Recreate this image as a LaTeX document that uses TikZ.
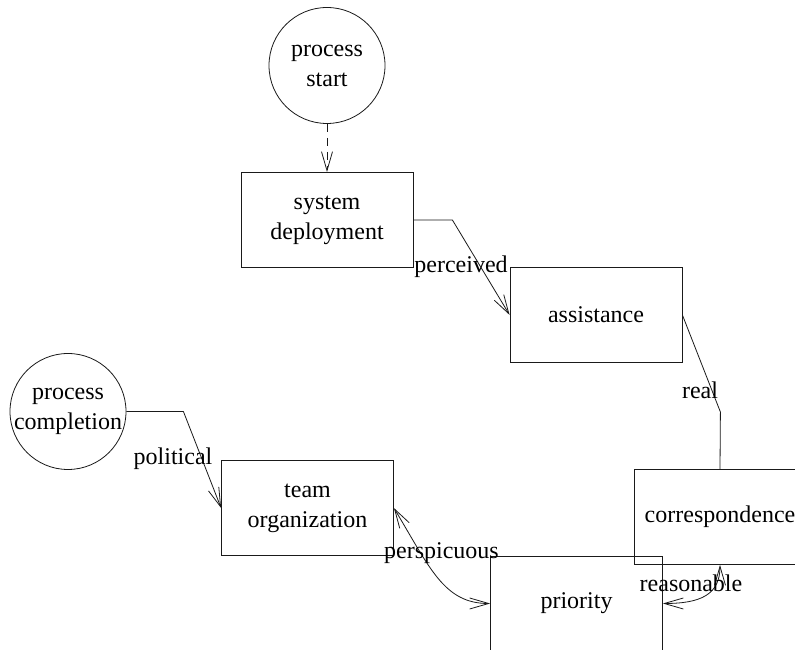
\documentclass[tikz,border=0pt]{standalone}
\usepackage{fontspec}
\setmainfont{Liberation Serif}
\usepackage{xcolor}
\definecolor{ink}{HTML}{1A1A1A}
\usepackage{tikz}
\usetikzlibrary{arrows.meta,positioning,shapes.geometric}
\tikzset{
  stepbox/.style = {rectangle, draw=ink, line width=0.8pt, inner sep=0pt,
                    minimum width=172pt, minimum height=95pt, align=center},
  endcirc/.style = {circle, draw=ink, line width=0.8pt, inner sep=-3pt,
                    minimum size=116pt, align=center},
  lbl/.style     = {inner sep=0pt, align=center},
  arr/.style     = {-{Straight Barb[length=19pt,width=11pt]}, line width=0.8pt, draw=ink},
  darr/.style    = {{Straight Barb[length=19pt,width=11pt]}-{Straight Barb[length=19pt,width=11pt]},
                    line width=0.8pt, draw=ink},
  plain/.style   = {line width=0.8pt, draw=ink}
}

\begin{document}
\begin{tikzpicture}[x=1pt, y=1pt, font=\fontsize{24}{30}\selectfont]
  \useasboundingbox (0,0) rectangle (795,650);

  % nodes
  \node[endcirc] (start) at (327,584.5) {process\\start};
  \node[stepbox] (deploy) at (327,430) {system\\deployment};
  \node[stepbox] (assist) at (596,335) {assistance};
  \node[stepbox] (corr) at (720,133) {correspondence};
  \node[stepbox] (prio) at (576.5,46.5) {priority};
  \node[stepbox] (team) at (307.5,142) {team\\organization};
  \node[endcirc] (compl) at (68,238.5) {process\\completion};

  % connectors
  \draw[arr, dash pattern=on 8pt off 6pt] (start) -- (deploy);
  \draw[arr] (deploy.east) -- ++(39,0) -- (assist.west);
  \draw[plain] (assist.east) -- ++(38,-97) -- (corr.north);
  \draw[arr] (compl.east) -- ++(57,0) -- (team.west);
  \draw[darr] (team.east) .. controls (430,82) and (444,46.5) .. (prio.west);
  \draw[darr] (corr.south) .. controls (720,55) and (700,46.5) .. (prio.east);

  % labels
  \node[lbl] (lperceived) at (461,383) {perceived};
  \node[lbl] (lreal) at (700,260) {real};
  \node[lbl] (lpolitical) at (173,191) {political};
  \node[lbl] (lperspicuous) at (441.5,97) {perspicuous};
  \node[lbl] (lreasonable) at (691,67) {reasonable};
\end{tikzpicture}
\end{document}
